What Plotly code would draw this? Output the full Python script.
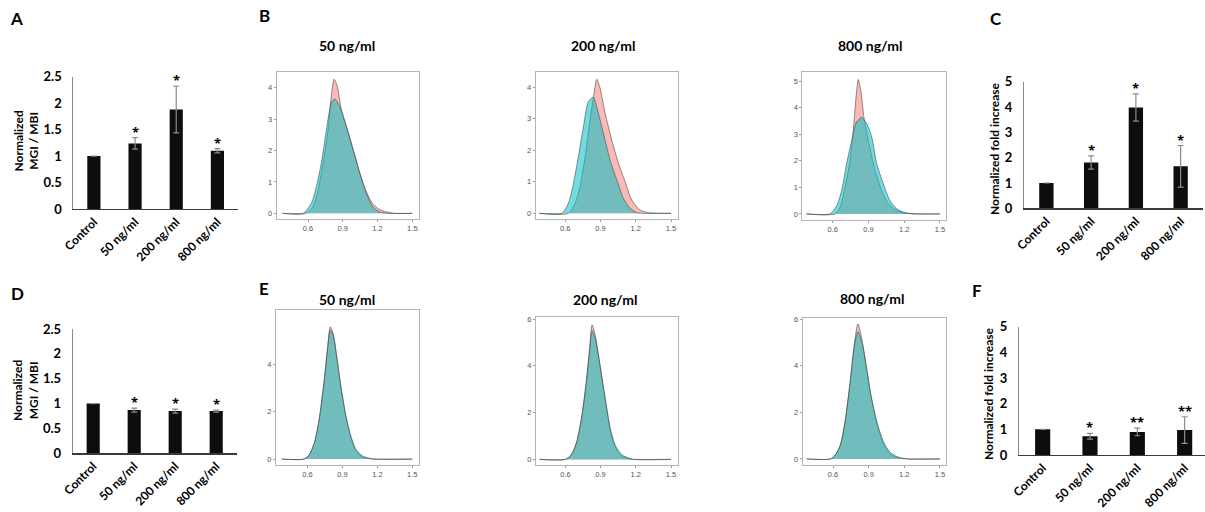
import plotly.graph_objects as go

W, H = 1205, 512

# ---------------- data ----------------
categories = ["Control", "50 ng/ml", "200 ng/ml", "800 ng/ml"]

a_values = [1.0, 1.24, 1.88, 1.10]
a_errors = [0.0, 0.11, 0.44, 0.04]
a_stars = ["", "*", "*", "*"]

c_values = [1.0, 1.81, 3.98, 1.66]
c_errors = [0.0, 0.26, 0.54, 0.82]
c_stars = ["", "*", "*", "*"]

d_values = [1.0, 0.87, 0.85, 0.85]
d_errors = [0.0, 0.04, 0.04, 0.02]
d_stars = ["", "*", "*", "*"]

f_values = [1.0, 0.73, 0.90, 0.97]
f_errors = [0.0, 0.11, 0.15, 0.52]
f_stars = ["", "*", "**", "**"]

density_titles = ["50 ng/ml", "200 ng/ml", "800 ng/ml"]

# B panels (pink series / cyan series)
b50_pink_x = [0.38, 0.585, 0.643, 0.687, 0.73, 0.773, 0.80, 0.825, 0.85, 0.888, 0.946, 1.0, 1.05, 1.10, 1.15, 1.20, 1.26, 1.35, 1.5]
b50_pink_y = [0, 0, 0.21, 0.74, 1.6, 2.65, 3.7, 4.27, 4.08, 3.3, 2.6, 1.9, 1.25, 0.72, 0.35, 0.16, 0.06, 0, 0]
b50_cyan_x = [0.38, 0.557, 0.629, 0.672, 0.715, 0.759, 0.80, 0.83, 0.874, 0.93, 0.99, 1.047, 1.105, 1.16, 1.22, 1.28, 1.5]
b50_cyan_y = [0, 0, 0.32, 0.85, 1.6, 2.65, 3.5, 3.64, 3.4, 2.76, 2.0, 1.27, 0.62, 0.2, 0.04, 0, 0]

b200_pink_x = [0.38, 0.628, 0.685, 0.727, 0.77, 0.812, 0.846, 0.869, 0.897, 0.94, 0.996, 1.053, 1.11, 1.166, 1.237, 1.31, 1.41, 1.5]
b200_pink_y = [0, 0, 0.32, 0.85, 1.8, 2.96, 3.81, 4.25, 3.97, 3.17, 2.33, 1.59, 1.0, 0.42, 0.1, 0.02, 0, 0]
b200_cyan_x = [0.38, 0.572, 0.628, 0.671, 0.713, 0.756, 0.798, 0.84, 0.875, 0.925, 0.982, 1.039, 1.095, 1.152, 1.21, 1.26, 1.5]
b200_cyan_y = [0, 0, 0.32, 0.95, 1.8, 2.75, 3.54, 3.68, 3.28, 2.54, 1.69, 1.06, 0.48, 0.16, 0.02, 0, 0]

b800_pink_x = [0.38, 0.62, 0.661, 0.703, 0.745, 0.773, 0.796, 0.815, 0.837, 0.863, 0.899, 0.955, 1.011, 1.067, 1.137, 1.22, 1.39, 1.5]
b800_pink_y = [0, 0, 0.25, 1.0, 2.0, 3.15, 4.4, 5.06, 4.6, 3.6, 2.77, 1.64, 0.88, 0.38, 0.13, 0.03, 0, 0]
b800_cyan_x = [0.38, 0.578, 0.634, 0.675, 0.717, 0.76, 0.80, 0.843, 0.885, 0.927, 0.969, 1.025, 1.08, 1.137, 1.193, 1.26, 1.5]
b800_cyan_y = [0, 0, 0.31, 0.88, 1.89, 2.77, 3.46, 3.63, 3.4, 2.9, 1.89, 1.13, 0.5, 0.19, 0.06, 0, 0]

# E panels
e50_pink_x = [0.38, 0.57, 0.614, 0.658, 0.70, 0.744, 0.773, 0.796, 0.822, 0.851, 0.888, 0.932, 0.975, 1.018, 1.076, 1.16, 1.5]
e50_pink_y = [0, 0, 0.17, 0.66, 1.65, 3.34, 4.75, 5.59, 5.28, 4.32, 3.0, 1.72, 0.86, 0.33, 0.08, 0, 0]
e50_cyan_x = [0.38, 0.57, 0.614, 0.658, 0.70, 0.744, 0.773, 0.796, 0.822, 0.851, 0.888, 0.932, 0.975, 1.018, 1.076, 1.16, 1.2, 1.5]
e50_cyan_y = [0, 0, 0.17, 0.66, 1.65, 3.3, 4.65, 5.45, 5.2, 4.32, 3.06, 1.79, 0.94, 0.4, 0.12, 0.01, 0, 0]

e200_pink_x = [0.38, 0.60, 0.65, 0.693, 0.735, 0.777, 0.805, 0.828, 0.855, 0.897, 0.94, 0.982, 1.024, 1.08, 1.17, 1.5]
e200_pink_y = [0, 0, 0.19, 0.68, 1.68, 3.25, 4.67, 5.75, 5.3, 3.96, 2.54, 1.25, 0.54, 0.14, 0, 0]
e200_cyan_x = [0.38, 0.60, 0.65, 0.693, 0.735, 0.777, 0.805, 0.828, 0.855, 0.897, 0.94, 0.982, 1.024, 1.08, 1.17, 1.2, 1.5]
e200_cyan_y = [0, 0, 0.19, 0.68, 1.68, 3.22, 4.55, 5.5, 5.15, 3.96, 2.6, 1.35, 0.62, 0.2, 0.01, 0, 0]

e800_pink_x = [0.38, 0.578, 0.62, 0.662, 0.704, 0.746, 0.78, 0.81, 0.844, 0.88, 0.92, 0.97, 1.026, 1.082, 1.152, 1.22, 1.5]
e800_pink_y = [0, 0, 0.17, 0.6, 1.68, 3.4, 4.97, 5.8, 5.11, 3.97, 2.68, 1.5, 0.62, 0.2, 0.05, 0, 0]
e800_cyan_x = [0.38, 0.578, 0.62, 0.662, 0.704, 0.746, 0.78, 0.81, 0.844, 0.88, 0.92, 0.97, 1.026, 1.082, 1.152, 1.22, 1.25, 1.5]
e800_cyan_y = [0, 0, 0.17, 0.6, 1.68, 3.38, 4.85, 5.47, 5.0, 3.97, 2.72, 1.58, 0.72, 0.28, 0.07, 0.01, 0, 0]

density_x_ticks = [0.6, 0.9, 1.2, 1.5]

# ---------------- helpers (layout only) ----------------
def dx(l, r):
    return [l / W, r / W]


def dy(t, b):
    return [1 - b / H, 1 - t / H]


FONT = "Lato, 'Open Sans', sans-serif"
STARFONT = "'Open Sans', 'DejaVu Sans', sans-serif"
SMALL = "'Liberation Sans', Arial, sans-serif"
PINK_FILL = "rgba(248,118,109,0.5)"
CYAN_FILL = "rgba(0,191,196,0.55)"
OUTLINE = "rgba(70,70,70,0.85)"

fig = go.Figure()
layout = dict(
    width=W, height=H, margin=dict(l=0, r=0, t=0, b=0, pad=0, autoexpand=False),
    paper_bgcolor="white", plot_bgcolor="white", showlegend=False,
    font=dict(family=FONT, color="black"),
)
annotations = []

# ---- bar panels ----
bar_panels = [
    # idx, values, errors, stars, xdomain px, ydomain px, xrange, ymax, yticks
    (1, a_values, a_errors, a_stars, (73.3, 238), (76.7, 209), [-0.5, 3.5], 2.5, [0, 0.5, 1, 1.5, 2, 2.5]),
    (2, c_values, c_errors, c_stars, (1024, 1203), (81.7, 208.3), [-0.5, 3.5], 5, [0, 1, 2, 3, 4, 5]),
    (3, d_values, d_errors, d_stars, (72.7, 236.7), (329, 453.3), [-0.5, 3.5], 2.5, [0, 0.5, 1, 1.5, 2, 2.5]),
    (4, f_values, f_errors, f_stars, (1019, 1205), (326.7, 455), [-0.5, 3.43], 5, [0, 1, 2, 3, 4, 5]),
]

for idx, vals, errs, stars, xd, yd, xr, ymax, yt in bar_panels:
    xa, ya = f"x{idx}", f"y{idx}"
    fig.add_trace(go.Bar(
        x=categories, y=vals, width=0.32,
        marker=dict(color="#0d0d0d", line=dict(width=0)),
        error_y=dict(type="data", array=errs, color="#8c8c8c", thickness=1.2, width=3),
        xaxis=xa, yaxis=ya,
    ))
    layout[f"xaxis{idx}"] = dict(
        domain=dx(*xd), anchor=ya, type="category", range=xr,
        showline=True, linecolor="#3a3a3a", linewidth=1.3, ticks="",
        tickangle=-45, tickfont=dict(size=12, family=FONT, weight="bold", color="black"),
        showgrid=False, zeroline=False, fixedrange=True, automargin=False,
    )
    layout[f"yaxis{idx}"] = dict(
        domain=dy(*yd), anchor=xa, range=[0, ymax], tickvals=yt,
        showline=True, linecolor="#8a8a8a", linewidth=1, ticks="",
        ticklabelstandoff=8,
        tickfont=dict(size=13, family=FONT, weight="bold", color="black"),
        showgrid=False, zeroline=False, fixedrange=True, automargin=False,
    )
    for cat, v, e, s in zip(categories, vals, errs, stars):
        if s:
            annotations.append(dict(
                x=cat, y=v + e, xref=xa, yref=ya, text=s, showarrow=False,
                yanchor="middle", yshift=6,
                font=dict(size=13, family=STARFONT, weight="bold", color="black"),
            ))

# ---- density panels ----
density_panels = [
    (5, b50_pink_x, b50_pink_y, b50_cyan_x, b50_cyan_y, (276.7, 419.3), (72.3, 219.3), [0.33, 1.56], [-0.19, 4.49], [0, 1, 2, 3, 4]),
    (6, b200_pink_x, b200_pink_y, b200_cyan_x, b200_cyan_y, (535.7, 678.3), (72.3, 219.3), [0.35, 1.562], [-0.19, 4.47], [0, 1, 2, 3, 4]),
    (7, b800_pink_x, b800_pink_y, b800_cyan_x, b800_cyan_y, (802.3, 945.7), (72.3, 220), [0.345, 1.548], [-0.23, 5.33], [0, 1, 2, 3, 4, 5]),
    (8, e50_pink_x, e50_pink_y, e50_cyan_x, e50_cyan_y, (276, 419.3), (310, 465), [0.33, 1.56], [-0.25, 6.3], [0, 2, 4]),
    (9, e200_pink_x, e200_pink_y, e200_cyan_x, e200_cyan_y, (536, 678.3), (316.7, 465), [0.35, 1.562], [-0.24, 6.1], [0, 2, 4, 6]),
    (10, e800_pink_x, e800_pink_y, e800_cyan_x, e800_cyan_y, (802.7, 945.7), (317.7, 465), [0.345, 1.548], [-0.26, 6.07], [0, 2, 4, 6]),
]

for idx, px_, py_, cx_, cy_, xd, yd, xr, yr, yt in density_panels:
    xa, ya = f"x{idx}", f"y{idx}"
    for xs, ys, fc in ((px_, py_, PINK_FILL), (cx_, cy_, CYAN_FILL)):
        fig.add_trace(go.Scatter(
            x=xs, y=ys, mode="lines", fill="tozeroy", fillcolor=fc,
            line=dict(color=OUTLINE, width=0.7, shape="spline", smoothing=0.7),
            xaxis=xa, yaxis=ya, hoverinfo="skip",
        ))
    common = dict(
        showline=True, mirror=True, linecolor="#b5b5b5", linewidth=1,
        ticks="outside", ticklen=2, tickcolor="#9a9a9a",
        tickfont=dict(size=7.5, family=SMALL, color="#555555"),
        showgrid=False, zeroline=False, fixedrange=True, automargin=False,
    )
    layout[f"xaxis{idx}"] = dict(domain=dx(*xd), anchor=ya, range=xr, tickvals=density_x_ticks,
                                 ticktext=[f"{t:.1f}" for t in density_x_ticks], **common)
    layout[f"yaxis{idx}"] = dict(domain=dy(*yd), anchor=xa, range=yr, tickvals=yt, **common)

# ---- text annotations ----
def txt(text, x, y, size, angle=0):
    annotations.append(dict(
        text=text, x=x / W, y=1 - y / H, xref="paper", yref="paper",
        showarrow=False, xanchor="center", yanchor="middle", textangle=angle,
        font=dict(size=size, family=FONT, weight="bold", color="black"),
    ))

for lab, x, y in [("A", 16, 18), ("B", 264, 15), ("C", 996, 18),
                  ("D", 17, 293), ("E", 264, 288), ("F", 977, 290)]:
    txt(lab, x, y, 17)

for t, x, y in zip(density_titles, [347, 603, 870], [45, 45, 45]):
    txt(t, x, y, 14)
for t, x, y in zip(density_titles, [347, 605, 872], [299, 299, 298]):
    txt(t, x, y, 14)

txt("Normalized<br>MGI / MBI", 25.5, 141, 12, -90)
txt("Normalized<br>MGI / MBI", 25, 391, 12, -90)
txt("Normalized fold increase", 994, 149, 12, -90)
txt("Normalized fold increase", 988, 394, 12, -90)

layout["annotations"] = annotations
fig.update_layout(**layout)
fig.write_html(
    "out.html",
    config={"displayModeBar": False, "staticPlot": True},
    post_script="document.body.style.margin='0';document.body.style.overflow='hidden';",
)
